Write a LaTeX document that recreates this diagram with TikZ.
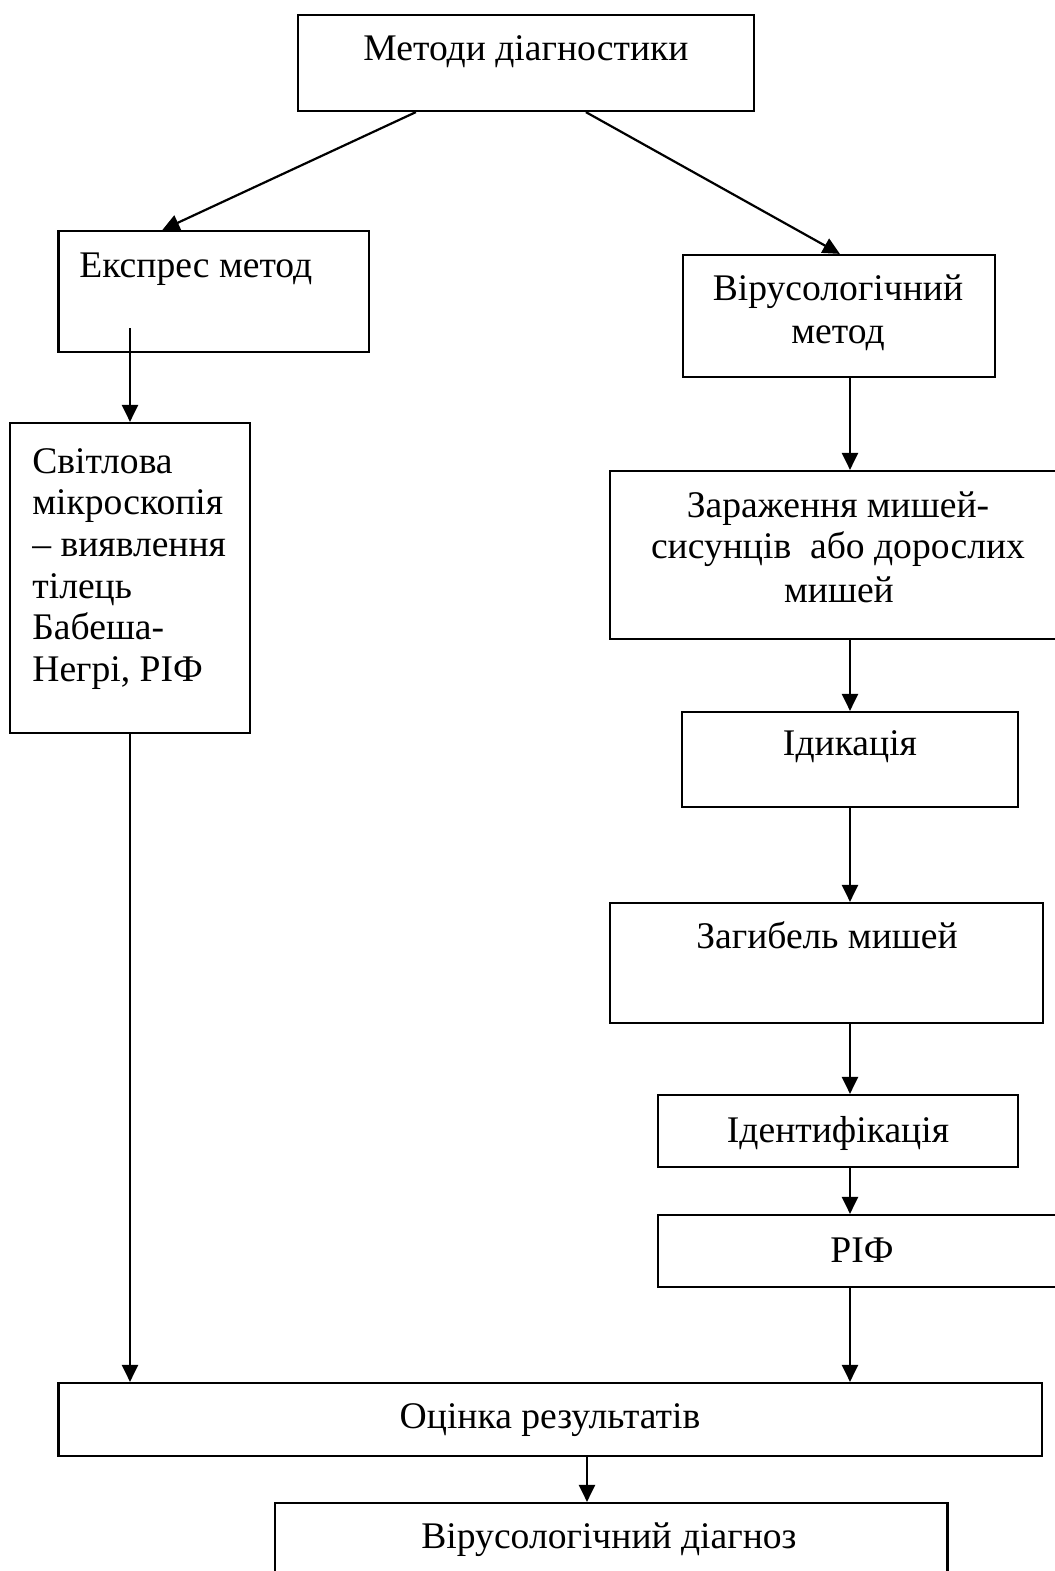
\documentclass[tikz,border=0pt]{standalone}
\usepackage{fontspec}
\setmainfont{Liberation Serif}
\usetikzlibrary{arrows.meta,fit,calc}
\begin{document}
\begin{tikzpicture}[x=0.5pt,y=-0.5pt,
  box/.style={draw,line width=1.1pt,inner sep=0pt},
  lbl/.style={inner sep=0pt,font=\fontsize{18.8}{21}\selectfont},
  arr/.style={line width=1.1pt,-{Triangle[length=8.5pt,width=8pt]}}]
\useasboundingbox (0,0) rectangle (1055,1571);
\clip (0,0) rectangle (1055,1571);
\coordinate (lc) at (130,0);
\coordinate (rc) at (850,0);
\coordinate (mc) at (587,0);
% boxes
\node[box,fit={(298,15)(754,111)}] (top) {};
\node[box,fit={(58.5,231)(369,352)}] (exp) {};
\node[box,fit={(683,255)(995,377)}] (vir) {};
\node[box,fit={(10,423)(250,733)}] (svit) {};
\node[box,fit={(610,471)(1075,639)}] (zar) {};
\node[box,fit={(682,712)(1018,807)}] (idk) {};
\node[box,fit={(610,903)(1043,1023)}] (zag) {};
\node[box,fit={(658,1095)(1018,1167)}] (ident) {};
\node[box,fit={(658,1215)(1075,1287)}] (rif) {};
\node[box,fit={(58.5,1383)(1042,1456)}] (ots) {};
\node[box,fit={(274.6,1503)(947.5,1600)}] (diag) {};
% texts
\node[lbl,anchor=base] (t-top) at (526,60) {Методи діагностики};
\node[lbl,anchor=base west] (t-exp) at (79,277) {Експрес метод};
\node[lbl,anchor=base] (t-vir1) at (838,300) {Вірусологічний};
\node[lbl,anchor=base] (t-vir2) at (838,343) {метод};
\node[lbl,anchor=base west] (t-sv1) at (32,473) {Світлова};
\node[lbl,anchor=base west] (t-sv2) at (32,514.7) {мікроскопія};
\node[lbl,anchor=base west] (t-sv3) at (32,556.4) {– виявлення};
\node[lbl,anchor=base west] (t-sv4) at (32,598) {тілець};
\node[lbl,anchor=base west] (t-sv5) at (32,639.8) {Бабеша-};
\node[lbl,anchor=base west] (t-sv6) at (32,681.5) {Негрі, РІФ};
\node[lbl,anchor=base] (t-zar1) at (838,517) {Зараження мишей-};
\node[lbl,anchor=base] (t-zar2) at (838,558) {сисунців\ \ або дорослих};
\node[lbl,anchor=base] (t-zar3) at (839,602) {мишей};
\node[lbl,anchor=base] (t-idk) at (850,755) {Ідикація};
\node[lbl,anchor=base] (t-zag) at (827,948) {Загибель мишей};
\node[lbl,anchor=base] (t-ident) at (838,1142) {Ідентифікація};
\node[lbl,anchor=base] (t-rif) at (862,1262) {РІФ};
\node[lbl,anchor=base] (t-ots) at (550,1428) {Оцінка результатів};
\node[lbl,anchor=base] (t-diag) at (609,1548) {Вірусологічний діагноз};
% connectors
\draw[arr] ($(top.south west)+(119,0)$) -- ($(exp.north west)+(105,0)$);
\draw[arr] ($(top.south west)+(289,0)$) -- ($(vir.north west)+(158,0)$);
\draw[arr] ($(exp.south -| lc)+(0,-25)$) -- (svit.north -| lc);
\draw[arr] (svit.south -| lc) -- (ots.north -| lc);
\draw[arr] (vir.south -| rc) -- (zar.north -| rc);
\draw[arr] (zar.south -| rc) -- (idk.north -| rc);
\draw[arr] (idk.south -| rc) -- (zag.north -| rc);
\draw[arr] (zag.south -| rc) -- (ident.north -| rc);
\draw[arr] (ident.south -| rc) -- (rif.north -| rc);
\draw[arr] (rif.south -| rc) -- (ots.north -| rc);
\draw[arr] (ots.south -| mc) -- (diag.north -| mc);
\end{tikzpicture}
\end{document}
